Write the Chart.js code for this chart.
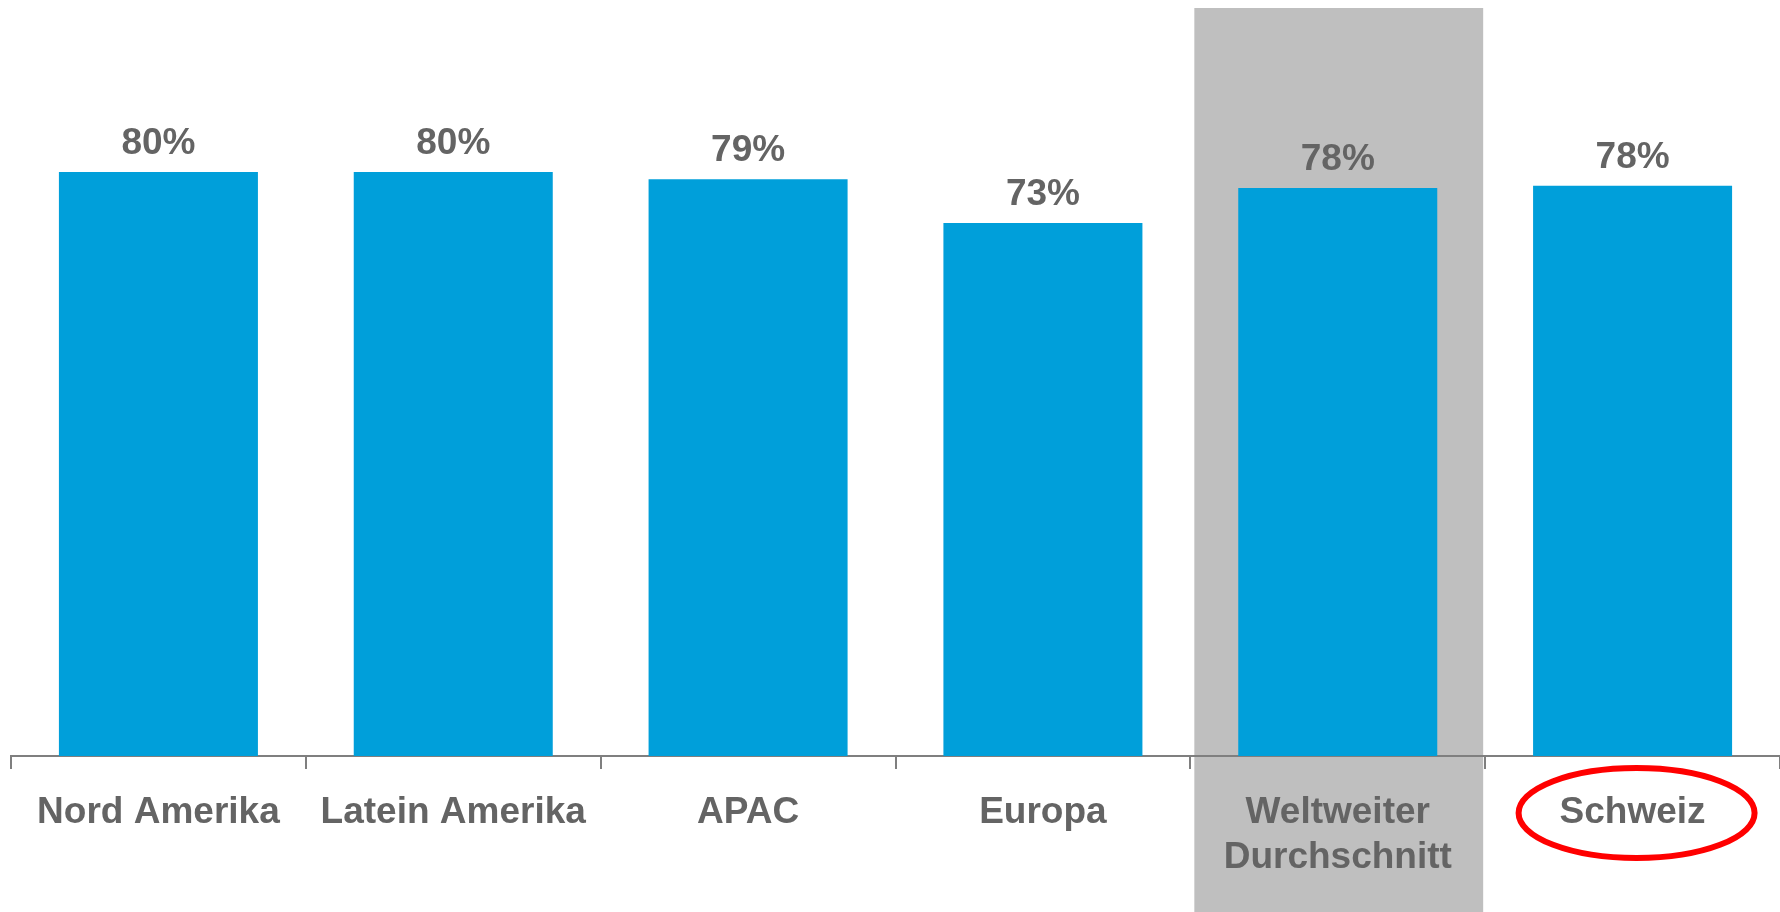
<!DOCTYPE html>
<html>
<head>
<meta charset="utf-8">
<script src="https://cdn.jsdelivr.net/npm/chart.js@4"></script>
<style>
  html, body { margin: 0; padding: 0; background: #ffffff; }
  #wrap { width: 1780px; height: 912px; position: relative; }
</style>
</head>
<body>
<div id="wrap"><canvas id="chart"></canvas></div>
<script>
// Regional comparison - share per region (percent)

const categories = [
  'Nord Amerika',
  'Latein Amerika',
  'APAC',
  'Europa',
  ['Weltweiter', 'Durchschnitt'],
  'Schweiz'
];
const values = [80, 80, 79, 73, 77.8, 78.1];
const highlightIndex = 4;   // grey band behind the world average
const circledIndex = 5;     // red ellipse round the Swiss label

const barColor = '#009fda';
const textColor = '#646464';
const axisColor = '#7f7f7f';

// Grey band behind one category, drawn before scales so it sits under the labels
const bandPlugin = {
  id: 'band',
  beforeDraw(chart) {
    const ctx = chart.ctx;
    const x = chart.scales.x;
    const half = (x.getPixelForValue(1) - x.getPixelForValue(0)) / 2;
    const cx = x.getPixelForValue(highlightIndex);
    ctx.save();
    ctx.fillStyle = '#bfbfbf';
    ctx.fillRect(cx - half + 4, chart.chartArea.top - 18, half * 2 - 6, chart.height);
    ctx.restore();
  }
};

// Percent labels above bars + ellipse round one axis label
const labelPlugin = {
  id: 'valueLabels',
  afterDatasetsDraw(chart) {
    const ctx = chart.ctx;
    const meta = chart.getDatasetMeta(0);
    ctx.save();
    ctx.font = 'bold 37px "Liberation Sans", Arial, sans-serif';
    ctx.fillStyle = textColor;
    ctx.textAlign = 'center';
    ctx.textBaseline = 'alphabetic';
    meta.data.forEach((bar, i) => {
      ctx.fillText(Math.round(values[i]) + '%', bar.x, bar.y - 18);
    });
    ctx.restore();
  },
  afterDraw(chart) {
    const ctx = chart.ctx;
    const x = chart.scales.x;
    const cx = x.getPixelForValue(circledIndex) + 4;
    const cy = chart.chartArea.bottom + 57;
    ctx.save();
    ctx.strokeStyle = '#ff0000';
    ctx.lineWidth = 6;
    ctx.beginPath();
    ctx.ellipse(cx, cy, 118, 45, 0, 0, Math.PI * 2);
    ctx.stroke();
    ctx.restore();
  }
};

new Chart(document.getElementById('chart'), {
  type: 'bar',
  data: {
    labels: categories,
    datasets: [{
      data: values,
      backgroundColor: barColor,
      borderWidth: 0,
      barPercentage: 0.675,
      categoryPercentage: 1.0
    }]
  },
  options: {
    responsive: true,
    maintainAspectRatio: false,
    animation: false,
    layout: {
      padding: { top: 26, left: 11, right: 0, bottom: 0 }
    },
    plugins: {
      legend: { display: false },
      tooltip: { enabled: false }
    },
    scales: {
      y: {
        display: false,
        min: 0,
        max: 100
      },
      x: {
        afterFit(scale) {
          scale.height = 156;
        },
        border: {
          display: true,
          color: axisColor,
          width: 2
        },
        grid: {
          offset: true,
          drawOnChartArea: false,
          drawTicks: true,
          tickLength: 13,
          color: axisColor,
          lineWidth: 2
        },
        ticks: {
          color: textColor,
          padding: 22,
          maxRotation: 0,
          autoSkip: false,
          font: {
            family: '"Liberation Sans", Arial, sans-serif',
            size: 37,
            weight: 'bold',
            lineHeight: 1.2
          }
        }
      }
    }
  },
  plugins: [bandPlugin, labelPlugin]
});
</script>
</body>
</html>
